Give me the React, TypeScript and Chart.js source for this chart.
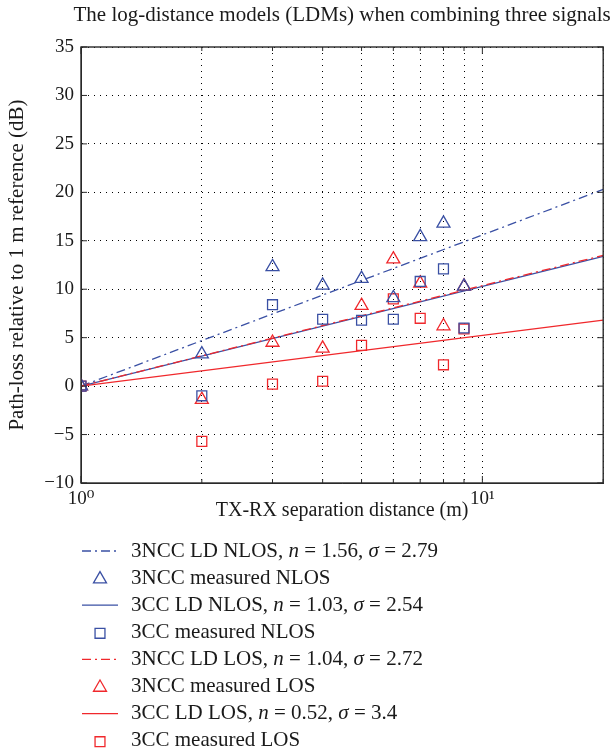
import React, { useEffect, useRef } from 'react';
import { Chart, registerables } from 'chart.js';

Chart.register(...registerables);

const TITLE = 'The log-distance models (LDMs) when combining three signals';
const X_TITLE = 'TX-RX separation distance (m)';
const Y_TITLE = 'Path-loss relative to 1 m reference (dB)';

// measured points
const distances = [1, 2, 3, 4, 5, 6, 7, 8, 9];
const nccNlosMeasured = [0, 3.3, 12.3, 10.4, 11.1, 9.1, 15.4, 16.8, 10.3];
const ccNlosMeasured = [0, -1.0, 8.4, 6.9, 6.8, 6.9, 10.8, 12.1, 6.0];
const nccLosMeasured = [0, -1.4, 4.5, 3.9, 8.3, 13.1, 10.6, 6.2, 10.3];
const ccLosMeasured = [0, -5.7, 0.2, 0.5, 4.2, 9.0, 7.0, 2.2, 5.9];

// fitted log-distance lines (straight on the log axis): values read at 1 m and 20 m
const lineDistances = [1, 20];
const nccNlosLine = [0, 20.3];
const ccNlosLine = [0, 13.4];
const nccLosLine = [0, 13.5];
const ccLosLine = [0, 6.8];

// legend text
const lineNames = ['3NCC LD NLOS', '3CC LD NLOS', '3NCC LD LOS', '3CC LD LOS'];
const nValues = ['1.56', '1.03', '1.04', '0.52'];
const sigmaValues = ['2.79', '2.54', '2.72', '3.4'];
const markerNames = ['3NCC measured NLOS', '3CC measured NLOS', '3NCC measured LOS', '3CC measured LOS'];

// axes
const xGridValues = [1, 2, 3, 4, 5, 6, 7, 8, 9, 10, 20];
const xTickLabels: Record<number, string> = { 1: '10\u2070', 10: '10\u00B9' };
const yMin = -10;
const yMax = 35;
const yStep = 5;

const BLUE = '#3a50a4';
const RED = '#f0282c';
const FONT = "'Liberation Serif', 'DejaVu Serif', 'Times New Roman', serif";
const DASHDOT = [9, 4, 2, 4];

const pts = (xs: number[], ys: number[]) => xs.map((x, i) => ({ x, y: ys[i] }));

type Seg = { t: string; i?: boolean };

function drawMarker(ctx: CanvasRenderingContext2D, style: string, x: number, y: number, r: number) {
  ctx.beginPath();
  if (style === 'triangle') {
    ctx.moveTo(x, y - r);
    ctx.lineTo(x + 0.866 * r, y + 0.5 * r);
    ctx.lineTo(x - 0.866 * r, y + 0.5 * r);
    ctx.closePath();
  } else {
    const s = Math.SQRT1_2 * r;
    ctx.rect(x - s, y - s, 2 * s, 2 * s);
  }
  ctx.stroke();
}

export default function App() {
  const ref = useRef<HTMLCanvasElement | null>(null);

  useEffect(() => {
    document.body.style.margin = '0';
    const canvas = ref.current;
    if (!canvas) return;

    const legendEntries: { kind: 'line' | 'marker'; color: string; dash?: number[]; style?: string; segs: Seg[] }[] = [];
    const lineStyles = [
      { color: BLUE, dash: DASHDOT },
      { color: BLUE, dash: [] as number[] },
      { color: RED, dash: DASHDOT },
      { color: RED, dash: [] as number[] },
    ];
    const markerStyles = [
      { color: BLUE, style: 'triangle' },
      { color: BLUE, style: 'rect' },
      { color: RED, style: 'triangle' },
      { color: RED, style: 'rect' },
    ];
    for (let k = 0; k < 4; k++) {
      legendEntries.push({
        kind: 'line',
        color: lineStyles[k].color,
        dash: lineStyles[k].dash,
        segs: [
          { t: lineNames[k] + ', ' },
          { t: 'n', i: true },
          { t: ' = ' + nValues[k] + ', ' },
          { t: '\u03C3', i: true },
          { t: ' = ' + sigmaValues[k] },
        ],
      });
      legendEntries.push({
        kind: 'marker',
        color: markerStyles[k].color,
        style: markerStyles[k].style,
        segs: [{ t: markerNames[k] }],
      });
    }

    const decorPlugin = {
      id: 'decor',
      afterDraw(chart: any) {
        const { ctx, chartArea: a, scales } = chart;
        ctx.save();
        // frame
        ctx.strokeStyle = '#2a2a2a';
        ctx.lineWidth = 1.4;
        ctx.setLineDash([]);
        ctx.strokeRect(a.left, a.top, a.right - a.left, a.bottom - a.top);
        // inside ticks
        ctx.lineWidth = 1;
        ctx.beginPath();
        xGridValues.forEach((v) => {
          const px = scales.x.getPixelForValue(v);
          const len = v === 1 || v === 10 ? 7 : 4;
          ctx.moveTo(px, a.bottom);
          ctx.lineTo(px, a.bottom - len);
          ctx.moveTo(px, a.top);
          ctx.lineTo(px, a.top + len);
        });
        for (let v = yMin; v <= yMax; v += yStep) {
          const py = scales.y.getPixelForValue(v);
          ctx.moveTo(a.left, py);
          ctx.lineTo(a.left + 6, py);
          ctx.moveTo(a.right, py);
          ctx.lineTo(a.right - 6, py);
        }
        ctx.stroke();

        // title
        ctx.fillStyle = '#1a1a1a';
        ctx.font = `21px ${FONT}`;
        ctx.textAlign = 'center';
        ctx.textBaseline = 'middle';
        ctx.fillText(TITLE, (a.left + a.right) / 2, 15);

        // legend
        const y0 = 551;
        const dy = 27.1;
        ctx.textAlign = 'left';
        legendEntries.forEach((e, idx) => {
          const y = y0 + idx * dy;
          ctx.strokeStyle = e.color;
          ctx.lineWidth = 1.3;
          if (e.kind === 'line') {
            ctx.setLineDash(e.dash || []);
            ctx.beginPath();
            ctx.moveTo(82, y);
            ctx.lineTo(118, y);
            ctx.stroke();
            ctx.setLineDash([]);
          } else {
            drawMarker(ctx, e.style || 'rect', 100, y + 1, e.style === 'triangle' ? 7.5 : 7);
          }
          let x = 131;
          ctx.fillStyle = '#1a1a1a';
          e.segs.forEach((s) => {
            ctx.font = `${s.i ? 'italic ' : ''}21px ${FONT}`;
            ctx.fillText(s.t, x, y);
            x += ctx.measureText(s.t).width;
          });
        });
        ctx.restore();
      },
    };

    const lineDs = (label: string, ys: number[], color: string, dash: number[], order: number) => ({
      type: 'line' as const,
      label,
      data: pts(lineDistances, ys),
      borderColor: color,
      borderWidth: 1.3,
      borderDash: dash,
      pointRadius: 0,
      fill: false,
      tension: 0,
      order,
    });
    const markDs = (label: string, ys: number[], color: string, style: string, r: number) => ({
      type: 'scatter' as const,
      label,
      data: pts(distances, ys),
      borderColor: color,
      backgroundColor: 'rgba(0,0,0,0)',
      pointStyle: style,
      pointRadius: r,
      pointBorderWidth: 1.3,
      showLine: false,
      order: 0,
    });

    const chart = new Chart(canvas, {
      type: 'scatter',
      data: {
        datasets: [
          lineDs('3NCC LD NLOS', nccNlosLine, BLUE, DASHDOT, 2),
          markDs('3NCC measured NLOS', nccNlosMeasured, BLUE, 'triangle', 7.5),
          lineDs('3CC LD NLOS', ccNlosLine, BLUE, [], 3),
          markDs('3CC measured NLOS', ccNlosMeasured, BLUE, 'rect', 7),
          lineDs('3NCC LD LOS', nccLosLine, RED, DASHDOT, 1),
          markDs('3NCC measured LOS', nccLosMeasured, RED, 'triangle', 7.5),
          lineDs('3CC LD LOS', ccLosLine, RED, [], 3),
          markDs('3CC measured LOS', ccLosMeasured, RED, 'rect', 7),
        ] as any,
      },
      options: {
        animation: false,
        responsive: false,
        maintainAspectRatio: false,
        devicePixelRatio: 1,
        layout: { padding: { left: 0, right: 7, top: 47, bottom: 227 } },
        plugins: {
          legend: { display: false },
          tooltip: { enabled: false },
          title: { display: false },
        },
        scales: {
          x: {
            type: 'logarithmic',
            min: 1,
            max: 20,
            afterBuildTicks: (s: any) => {
              s.ticks = xGridValues.map((v) => ({ value: v, major: v === 1 || v === 10 }));
            },
            afterFit: (s: any) => {
              s.height = 40;
            },
            ticks: {
              autoSkip: false,
              maxRotation: 0,
              minRotation: 0,
              padding: 5,
              color: '#1a1a1a',
              font: { family: FONT, size: 19 },
              callback: (v: any) => xTickLabels[Number(v)] ?? '',
            },
            grid: { color: '#000', lineWidth: 1, drawTicks: false },
            border: { display: true, color: '#2a2a2a', width: 1, dash: [1, 5] },
            title: {
              display: true,
              text: X_TITLE,
              color: '#1a1a1a',
              font: { family: FONT, size: 20 },
              padding: { top: 0, bottom: 0 },
            },
          },
          y: {
            type: 'linear',
            min: yMin,
            max: yMax,
            afterFit: (s: any) => {
              s.width = 81;
            },
            ticks: {
              stepSize: yStep,
              padding: 7,
              color: '#1a1a1a',
              font: { family: FONT, size: 19 },
              callback: (v: any) => String(v).replace('-', '\u2212'),
            },
            grid: { color: '#000', lineWidth: 1, drawTicks: false },
            border: { display: true, color: '#2a2a2a', width: 1, dash: [1, 5] },
            title: {
              display: true,
              text: Y_TITLE,
              color: '#1a1a1a',
              font: { family: FONT, size: 21 },
              padding: { top: 5, bottom: 0 },
            },
          },
        },
      } as any,
      plugins: [decorPlugin],
    });

    return () => chart.destroy();
  }, []);

  return (
    <div style={{ width: 612, height: 750 }}>
      <canvas ref={ref} width={612} height={750} style={{ display: 'block', width: 612, height: 750 }} />
    </div>
  );
}
